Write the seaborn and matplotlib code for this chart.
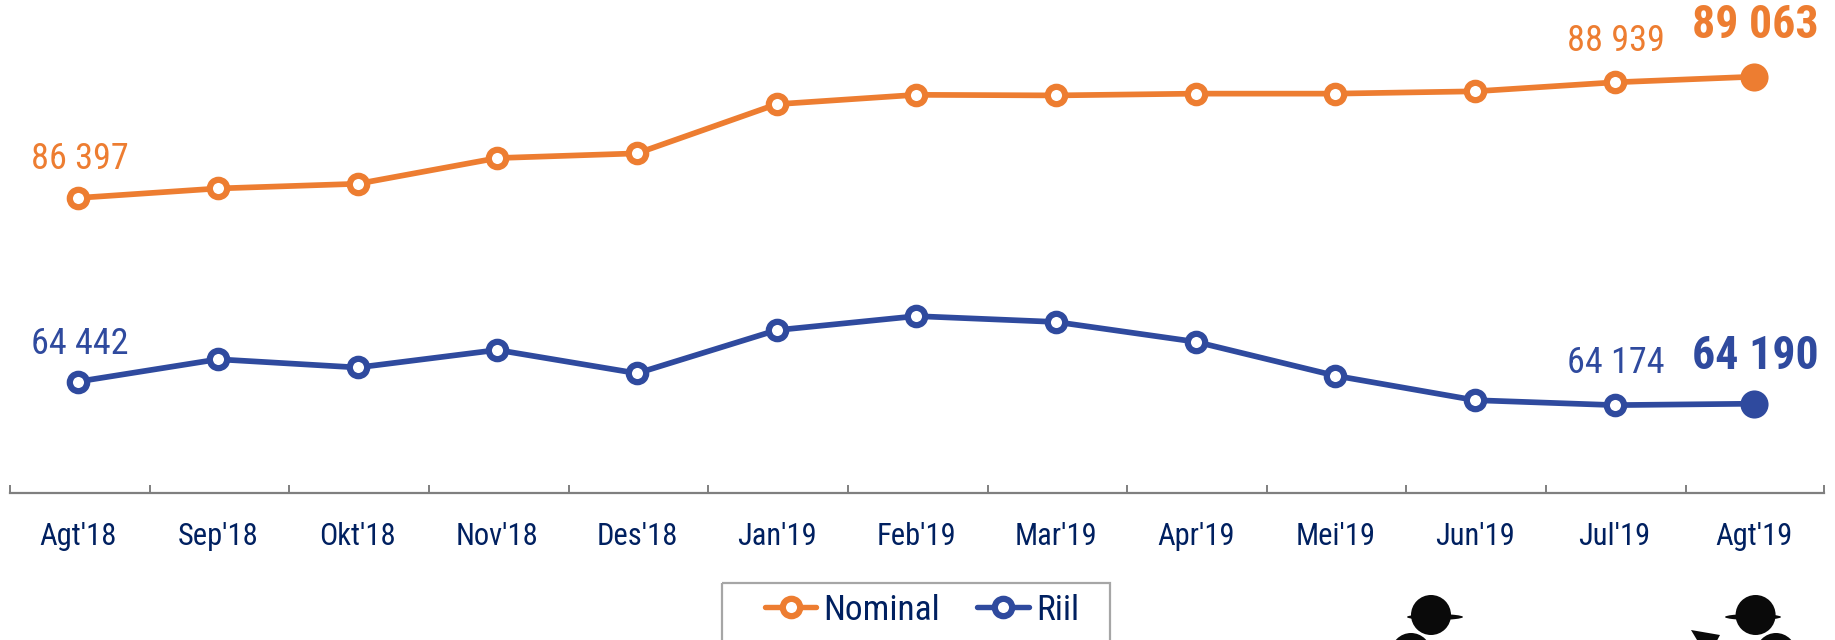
import matplotlib
matplotlib.use("Agg")
import matplotlib.pyplot as plt
import seaborn as sns
from matplotlib.lines import Line2D
from matplotlib.patches import Circle, Ellipse, Polygon, Rectangle
from matplotlib.transforms import Affine2D
from matplotlib.ticker import FixedLocator, NullFormatter, FixedFormatter

months = ["Agt'18", "Sep'18", "Okt'18", "Nov'18", "Des'18", "Jan'19", "Feb'19",
          "Mar'19", "Apr'19", "Mei'19", "Jun'19", "Jul'19", "Agt'19"]
nominal = [86397, 86604, 86707, 87273, 87376, 88458, 88664,
           88651, 88690, 88690, 88741, 88939, 89063]
riil = [64442, 64694, 64601, 64800, 64535, 65025, 65184,
        65118, 64893, 64508, 64230, 64174, 64190]

ORANGE = "#ED7D31"
BLUE = "#2F4A9E"
NAVY = "#002060"
GREY = "#7F7F7F"

sns.set_theme(style="white")
plt.rcParams["font.family"] = ["Roboto Condensed", "DejaVu Sans"]

W, H = 1835, 640
fig = plt.figure(figsize=(W / 100, H / 100), dpi=100, facecolor="white")
ax = fig.add_axes([10 / W, 1 - 492.7 / H, (1824 - 10) / W, 492.7 / H])
ax2 = ax.twinx()

line_kw = dict(linewidth=4.1, marker="o", markersize=12.5, markerfacecolor="white",
               markeredgewidth=4.5, errorbar=None, sort=False, legend=False)
sns.lineplot(x=months, y=nominal, ax=ax, color=ORANGE, markeredgecolor=ORANGE, **line_kw)
sns.lineplot(x=months, y=riil, ax=ax2, color=BLUE, markeredgecolor=BLUE, **line_kw)
sns.scatterplot(x=months[-1:], y=nominal[-1:], ax=ax, color=ORANGE, s=410, linewidth=0, zorder=5)
sns.scatterplot(x=months[-1:], y=riil[-1:], ax=ax2, color=BLUE, s=410, linewidth=0, zorder=5)

ax.set_ylim(79911, 90750)
ax2.set_ylim(63180, 68772)
ax.set_xlim(-0.49, 12.5)
ax.set_ylabel("")
ax2.set_ylabel("")
ax.set_yticks([])
ax2.set_yticks([])
for a in (ax, ax2):
    for s in ("top", "left", "right"):
        a.spines[s].set_visible(False)
    a.patch.set_visible(False)
ax2.spines["bottom"].set_visible(False)
ax.spines["bottom"].set_color(GREY)
ax.spines["bottom"].set_linewidth(1.6)

ax.xaxis.set_major_locator(FixedLocator(range(len(months))))
ax.xaxis.set_major_formatter(FixedFormatter(months))
ax.xaxis.set_minor_locator(FixedLocator([i - 0.49 for i in range(len(months))] + [12.5]))
ax.xaxis.set_minor_formatter(NullFormatter())
ax.tick_params(axis="x", which="major", length=0, pad=21, labelsize=22, labelcolor=NAVY)
ax.tick_params(axis="x", which="minor", length=6, width=1.4, color=GREY, direction="in", bottom=True)


def fmt(v):
    return f"{v:,}".replace(",", " ")


def label(a, i, vals, color, dx, dy, **kw):
    a.annotate(fmt(vals[i]), (i, vals[i]), xytext=(dx, dy), textcoords="offset points",
               ha="center", va="center", color=color, clip_on=False, **kw)


label(ax, 0, nominal, ORANGE, 1, 28, fontsize=26)
label(ax, 11, nominal, ORANGE, 1, 30, fontsize=26)
label(ax, 12, nominal, ORANGE, 1, 37, fontsize=33, fontweight="bold")
label(ax2, 0, riil, BLUE, 1, 27, fontsize=26)
label(ax2, 11, riil, BLUE, 1, 30, fontsize=26)
label(ax2, 12, riil, BLUE, 1, 34, fontsize=33, fontweight="bold")

# pixel coordinates for the legend box and the decorative figures at the bottom
px = Affine2D().scale(1 / W, -1 / H).translate(0, 1) + fig.transFigure
fig.add_artist(Rectangle((722, 583), 388, 100, transform=px, fill=False,
                         edgecolor="#A6A6A6", linewidth=1.6))

handles = [
    Line2D([], [], color=c, linewidth=3.9, marker="o", markersize=12.5,
           markerfacecolor="white", markeredgecolor=c, markeredgewidth=4.5,
           solid_capstyle="round")
    for c in (ORANGE, BLUE)
]
fig.legend(handles, ["Nominal", "Riil"], frameon=False, ncol=2, fontsize=25.5,
           labelcolor=NAVY, handlelength=1.45, handletextpad=0.2, columnspacing=1.05,
           loc="center left", bbox_to_anchor=(765 / W, 1 - 610 / H), borderpad=0, borderaxespad=0)

INK = "#0A0A0A"
for hx, brim_x, second, tip in [(1431, 1435, 1411, None), (1755.6, 1753, 1776, (1691, 630))]:
    fig.add_artist(Circle((hx, 615), 20, transform=px, color=INK, linewidth=0))
    fig.add_artist(Ellipse((brim_x, 617), 56, 6, transform=px, color=INK, linewidth=0))
    fig.add_artist(Circle((second, 653), 20, transform=px, color=INK, linewidth=0))
    if tip:
        fig.add_artist(Polygon([tip, (1720, 635), (1712, 650), (1700, 645)], closed=True,
                               transform=px, color=INK, linewidth=0))

fig.savefig("out.png", dpi=100, facecolor="white")
